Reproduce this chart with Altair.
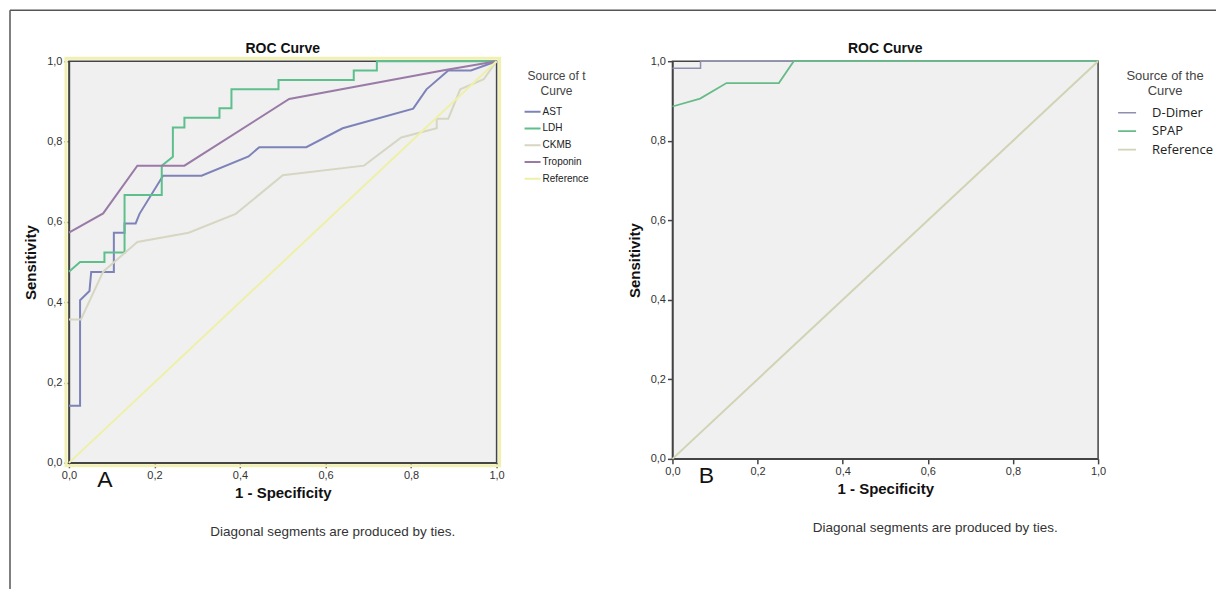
import altair as alt
import pandas as pd

FONT = "Liberation Sans"

# ---------------- Panel A data ----------------
a_series = ["AST", "LDH", "CKMB", "Troponin", "Reference"]
a_colors = ["#7d83b8", "#5cbf8c", "#d6d6c2", "#9a7aa6", "#eef0a8"]

ast_x = [0.0, 0.026, 0.026, 0.048, 0.052, 0.105, 0.105, 0.13, 0.13, 0.156, 0.165, 0.22, 0.31, 0.42, 0.445, 0.555, 0.64, 0.805, 0.836, 0.887, 0.94, 1.0]
ast_y = [0.142, 0.142, 0.405, 0.428, 0.475, 0.475, 0.573, 0.573, 0.596, 0.596, 0.62, 0.715, 0.715, 0.763, 0.786, 0.786, 0.833, 0.882, 0.93, 0.977, 0.977, 1.0]

ldh_x = [0.0, 0.026, 0.083, 0.083, 0.13, 0.13, 0.217, 0.217, 0.243, 0.243, 0.27, 0.27, 0.352, 0.352, 0.38, 0.38, 0.49, 0.49, 0.666, 0.666, 0.72, 0.72, 1.0]
ldh_y = [0.476, 0.5, 0.5, 0.524, 0.524, 0.667, 0.667, 0.74, 0.762, 0.835, 0.835, 0.859, 0.859, 0.883, 0.883, 0.93, 0.93, 0.953, 0.953, 0.977, 0.977, 1.0, 1.0]

ckmb_x = [0.0, 0.028, 0.08, 0.16, 0.28, 0.39, 0.5, 0.69, 0.777, 0.86, 0.86, 0.887, 0.915, 0.97, 1.0]
ckmb_y = [0.357, 0.357, 0.476, 0.55, 0.573, 0.62, 0.716, 0.74, 0.81, 0.833, 0.857, 0.857, 0.93, 0.955, 1.0]

trop_x = [0.0, 0.08, 0.16, 0.27, 0.515, 0.88, 1.0]
trop_y = [0.573, 0.621, 0.74, 0.74, 0.906, 0.978, 1.0]

refa_x = [0.0, 1.0]
refa_y = [0.0, 1.0]

# ---------------- Panel B data ----------------
b_series = ["D-Dimer", "SPAP", "Reference"]
b_colors = ["#8e8eb0", "#66bb88", "#d2d2b4"]

dd_x = [0.0, 0.066, 0.066, 1.0]
dd_y = [0.982, 0.982, 1.0, 1.0]

spap_x = [0.0, 0.065, 0.127, 0.25, 0.285, 1.0]
spap_y = [0.886, 0.906, 0.945, 0.945, 1.0, 1.0]

refb_x = [0.0, 1.0]
refb_y = [0.0, 1.0]

tick_values = [0.0, 0.2, 0.4, 0.6, 0.8, 1.0]
panel_title = "ROC Curve"
footnote = "Diagonal segments are produced by ties."


def long_df(names, xs_list, ys_list):
    rows = []
    for n, xs, ys in zip(names, xs_list, ys_list):
        for i, (xv, yv) in enumerate(zip(xs, ys)):
            rows.append({"series": n, "x": xv, "y": yv, "i": i})
    return pd.DataFrame(rows)


df_a = long_df(a_series, [ast_x, ldh_x, ckmb_x, trop_x, refa_x], [ast_y, ldh_y, ckmb_y, trop_y, refa_y])
df_b = long_df(b_series, [dd_x, spap_x, refb_x], [dd_y, spap_y, refb_y])
one = pd.DataFrame({"k": [0]})

label_expr = "replace(format(datum.value, '.1f'), '.', ',')"


def axis(dash, title_pad):
    return alt.Axis(
        values=tick_values, labelExpr=label_expr, grid=False,
        tickSize=5, tickColor="#444", tickWidth=1.5, tickDash=dash,
        domainColor="#444", domainWidth=1.5,
        labelFont=FONT, labelFontSize=11, labelColor="#333", labelPadding=2,
        labelFlush=False, labelOverlap=False,
        titleFont=FONT, titleFontSize=15, titleFontWeight="bold", titleColor="#111",
        titlePadding=title_pad,
    )


def panel(df, names, colors, w, h, legend, letter, widths, frame=False, halo=False):
    dash = [2, 1.5] if halo else []
    lines = alt.Chart(df).mark_line(clip=False).encode(
        x=alt.X("x:Q", scale=alt.Scale(domain=[0, 1]), axis=axis(dash, 5), title="1 - Specificity"),
        y=alt.Y("y:Q", scale=alt.Scale(domain=[0, 1]), axis=axis(dash, 8), title="Sensitivity"),
        color=alt.Color("series:N", scale=alt.Scale(domain=names, range=colors), legend=legend),
        strokeWidth=alt.StrokeWidth("series:N", scale=alt.Scale(domain=names, range=widths), legend=None),
        order="i:Q",
    )
    layers = []
    if halo:
        layers.append(alt.Chart(one).mark_rect(fill="transparent", stroke="#f1f0b4", strokeWidth=3).encode(
            x=alt.value(-3), x2=alt.value(w + 3), y=alt.value(-3), y2=alt.value(h + 3)))
    layers.append(lines)
    layers.append(alt.Chart(one).mark_text(text=panel_title, font=FONT, fontSize=14, fontWeight="bold", color="#111",
                                           baseline="middle", align="center").encode(
        x=alt.value(w / 2), y=alt.value(-12)))
    layers.append(alt.Chart(one).mark_text(text=letter, font=FONT, fontSize=23, color="#111", baseline="middle", align="center").encode(
        x=alt.value(36 if halo else 34), y=alt.value(h + 17)))
    layers.append(alt.Chart(one).mark_text(text=footnote, font=FONT, fontSize=13.5, color="#333", baseline="middle", align="center").encode(
        x=alt.value(w / 2 + 50), y=alt.value(h + 69)))
    if frame:
        layers.append(alt.Chart(one).mark_rule(color="#555", strokeWidth=1.5).encode(
            x=alt.value(-59), y=alt.value(-51), y2=alt.value(530)))
        layers.append(alt.Chart(one).mark_rule(color="#555", strokeWidth=1.5).encode(
            x=alt.value(-59), x2=alt.value(1148), y=alt.value(-51)))
    return alt.layer(*layers).properties(width=w, height=h)


legend_a = alt.Legend(
    title=["Source of t", "Curve"], orient="none", legendX=455, legendY=10,
    symbolType="stroke", symbolSize=256, symbolStrokeWidth=2,
    labelFont=FONT, labelFontSize=10, labelColor="#222", labelOffset=1,
    titleFont=FONT, titleFontSize=12, titleFontWeight="normal", titleColor="#444",
    titleAnchor="middle", titleAlign="center", titlePadding=7, titleLineHeight=15,
    clipHeight=13, rowPadding=3.8,
)

legend_b = alt.Legend(
    title=["Source of the", "Curve"], orient="none", legendX=445, legendY=9,
    symbolType="stroke", symbolSize=324, symbolStrokeWidth=2,
    labelFont="Open Sans", labelFontSize=13, labelColor="#222", labelOffset=15,
    titleFont=FONT, titleFontSize=13, titleFontWeight="normal", titleColor="#444",
    titleAnchor="middle", titleAlign="center", titlePadding=7, titleLineHeight=15,
    clipHeight=15, rowPadding=3.5,
)

chart_a = panel(df_a, a_series, a_colors, 428, 402, legend_a, "A", [2, 2, 2, 2, 2.5], frame=True, halo=True)
chart_b = panel(df_b, b_series, b_colors, 426, 398, legend_b, "B", [1.5, 2, 1], frame=False, halo=False)

chart = alt.hconcat(chart_a, chart_b, spacing=176, bounds="flush").resolve_scale(
    color="independent", strokeWidth="independent"
).configure_view(fill="#f0f0f0", stroke="#444", strokeWidth=1.5).properties(padding=0, background="white")

chart.save("out.html", embed_options={"renderer": "svg", "actions": False})
